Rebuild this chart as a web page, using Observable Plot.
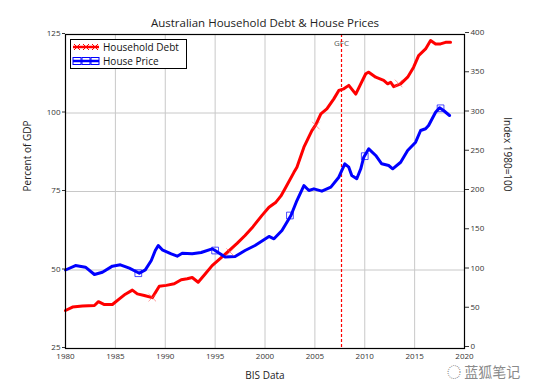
<!DOCTYPE html>
<html><head><meta charset="utf-8">
<script src="https://cdn.jsdelivr.net/npm/d3@7"></script>
<script src="https://cdn.jsdelivr.net/npm/@observablehq/plot@0.6"></script>
<style>
body{margin:0;background:#fff;}
#wrap{position:relative;width:533px;height:384px;font-family:"Open Sans",sans-serif;}
#legend{position:absolute;left:70px;top:39px;width:115px;height:28px;border:1px solid #000;background:#fff;}
#wm{position:absolute;left:444px;top:362px;font-family:"Noto Sans CJK SC",sans-serif;font-size:14px;color:#8a8a8a;background:rgba(255,255,255,0.85);padding:0 3px;line-height:18px;}
</style></head>
<body><div id="wrap"></div>
<script>
const title = "Australian Household Debt & House Prices";
const xLabel = "BIS Data";
const leftLabel = "Percent of GDP";
const rightLabel = "Index 1980=100";
const debtLabel = "Household Debt";
const priceLabel = "House Price";
const gfcLabel = "GFC";
const gfcYear = 2007.67;

const xTicks = [1980,1985,1990,1995,2000,2005,2010,2015,2020];
const leftTicks = [25,50,75,100,125];
const rightTicks = [0,50,100,150,200,250,300,350,400];

const debtYears = [1980.0,1980.7,1981.7,1982.9,1983.3,1983.9,1984.7,1985.4,1986.0,1986.7,1987.2,1987.9,1988.7,1989.4,1990.1,1990.9,1991.6,1992.2,1992.7,1993.3,1994.0,1994.7,1995.5,1996.4,1997.2,1998.0,1998.8,1999.7,2000.4,2001.1,2001.6,2002.1,2002.9,2003.2,2003.9,2004.7,2005.1,2005.6,2006.2,2006.9,2007.4,2007.9,2008.4,2009.1,2009.6,2010.1,2010.4,2011.1,2011.9,2012.3,2012.6,2012.9,2013.6,2014.3,2014.9,2015.4,2016.1,2016.6,2017.1,2017.6,2018.1,2018.6];
const debtValues = [37.1,38.2,38.5,38.7,39.9,39.0,39.0,40.8,42.3,43.6,42.4,41.9,41.2,44.8,45.1,45.6,46.9,47.2,47.6,46.1,48.7,51.4,53.6,56.2,58.5,61.0,63.8,67.4,70.0,71.6,73.6,76.4,81.1,82.7,89.1,94.4,96.3,99.7,101.3,104.5,107.2,107.7,108.8,106.0,109.3,112.5,113.0,111.4,110.4,109.3,109.8,108.4,109.3,111.4,114.6,118.3,120.4,123.1,122.0,122.0,122.5,122.5];

const priceYears = [1980.0,1981.0,1982.0,1982.9,1983.7,1984.7,1985.5,1986.4,1987.4,1988.0,1988.6,1989.0,1989.3,1989.7,1990.6,1991.2,1991.7,1992.7,1993.6,1994.7,1995.0,1996.0,1997.0,1998.0,1999.0,2000.4,2000.9,2001.7,2002.6,2003.2,2003.9,2004.4,2004.9,2005.7,2006.6,2007.4,2008.0,2008.4,2008.7,2009.2,2009.6,2009.9,2010.4,2011.1,2011.7,2012.4,2012.8,2013.6,2014.3,2015.1,2015.6,2016.1,2016.4,2017.1,2017.5,2017.9,2018.5];
const priceValues = [100,105.7,103.6,94.3,97.2,104.9,106.6,102.3,95.9,100.2,112.1,124.8,131.2,125.7,120.6,117.6,121.4,120.6,122.3,127,124.8,116.5,117.2,124.8,131.2,142.7,139.7,150.3,169.4,188.5,207.6,201.3,203.4,200.4,205.5,218.2,235.3,231,220.4,216.2,228.9,243.7,254.4,245.9,235.3,233.1,228.9,237.3,252.2,262.8,277.7,279.9,284.1,301,306.6,303.2,296.8];

const priceMarkYears = [1987.3,1995.0,2002.5,2010.0,2017.6];
const priceMarkValues = [95.9,124.8,169.4,245,306];
const debtMarkYears = [1988.7,1996.5,2005.1,2013.4];
const debtMarkValues = [41.2,55.7,96.0,109.4];

const toLeft = v => 25 + v / 4;
const fromLeft = y => Math.round((y - 25) * 4);

const debt = debtYears.map((x, i) => ({x, y: debtValues[i]}));
const price = priceYears.map((x, i) => ({x, y: toLeft(priceValues[i])}));
const priceMarks = priceMarkYears.map((x, i) => ({x, y: toLeft(priceMarkValues[i])}));
const debtMarks = debtMarkYears.map((x, i) => ({x, y: debtMarkValues[i]}));

const chart = Plot.plot({
  width: 533, height: 384,
  marginLeft: 65, marginRight: 69, marginTop: 34, marginBottom: 36,
  style: {fontFamily: "'Open Sans', sans-serif", fontSize: "8px", color: "#333", background: "#fff"},
  x: {domain: [1980, 2020]},
  y: {domain: [25, 125]},
  marks: [
    Plot.gridX(xTicks.slice(1, -1), {stroke: "#c8c8c8", strokeOpacity: 1}),
    Plot.gridY([50, 75, 100], {stroke: "#c8c8c8", strokeOpacity: 1}),
    Plot.text([gfcLabel], {x: () => gfcYear, text: d => d, frameAnchor: "top", dy: 6, fontSize: 8, fill: "#555"}),
    Plot.ruleX([gfcYear], {stroke: "#ff0000", strokeOpacity: 1, strokeDasharray: "3,2", strokeWidth: 1.2}),
    Plot.line(debt, {x: "x", y: "y", stroke: "#ff0000", strokeWidth: 3}),
    Plot.line(price, {x: "x", y: "y", stroke: "#0000ff", strokeWidth: 3}),
    Plot.dot(debtMarks, {x: "x", y: "y", symbol: "times", r: 3.5, stroke: "#ff5555", strokeOpacity: 0.6, strokeWidth: 1}),
    Plot.dot(priceMarks, {x: "x", y: "y", symbol: "square", r: 3.8, stroke: "#0000ff", strokeOpacity: 0.7, fill: "none", strokeWidth: 1}),
    Plot.frame({stroke: "#000", strokeWidth: 1.2}),
    Plot.axisX({ticks: xTicks, tickFormat: d => String(d), tickSize: 0, tickPadding: 5, label: null, fill: "#333"}),
    Plot.axisY({anchor: "left", ticks: leftTicks, tickFormat: d => String(d), tickSize: 3, tickPadding: 2, label: null, fill: "#333", dy: -1}),
    Plot.axisY({anchor: "right", ticks: rightTicks.map(toLeft), tickFormat: d => String(fromLeft(d)), tickSize: 4, tickPadding: 2, label: null, fill: "#333", dy: -2}),
    Plot.text([title], {text: d => d, frameAnchor: "top", dy: -16, fontSize: 11.5, fill: "#222"}),
    Plot.text([xLabel], {text: d => d, frameAnchor: "bottom", dy: 30, fontSize: 10, fill: "#222"}),
    Plot.text([leftLabel], {text: d => d, frameAnchor: "left", dx: -38, rotate: -90, fontSize: 10, fill: "#222"}),
    Plot.text([rightLabel], {text: d => d, frameAnchor: "right", dx: 43, rotate: 90, fontSize: 10, fill: "#222"})
  ]
});
const wrap = document.getElementById("wrap");
wrap.appendChild(chart);

// legend
const leg = document.createElement("div");
leg.id = "legend";
leg.innerHTML = `<svg width="115" height="28" style="display:block">
  <line x1="2" x2="28" y1="7" y2="7" stroke="#ff0000" stroke-width="2.5"/>
  ${[6,15,24].map(x=>`<path d="M${x-3},4L${x+3},10M${x-3},10L${x+3},4" stroke="#ff0000" stroke-width="1"/>`).join("")}
  <text x="32" y="10.5" font-size="10" fill="#111" font-family="Open Sans, sans-serif">${debtLabel}</text>
  <line x1="2" x2="28" y1="21" y2="21" stroke="#0000ff" stroke-width="2.5"/>
  ${[6,15,24].map(x=>`<rect x="${x-4}" y="17.5" width="8" height="7" fill="none" stroke="#0000ff" stroke-width="1"/>`).join("")}
  <text x="32" y="24.5" font-size="10" fill="#111" font-family="Open Sans, sans-serif">${priceLabel}</text>
</svg>`;
wrap.appendChild(leg);

const wm = document.createElement("div");
wm.id = "wm";
wm.textContent = "◌ 蓝狐笔记";
wrap.appendChild(wm);
</script>
</body></html>
